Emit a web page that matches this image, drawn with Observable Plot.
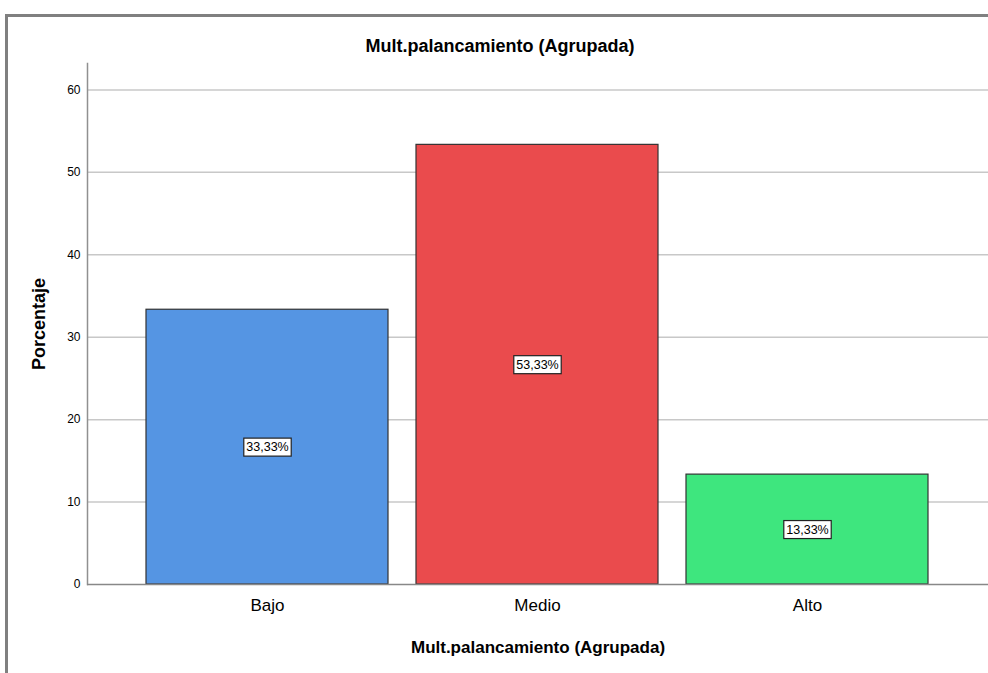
<!DOCTYPE html>
<html><head><meta charset="utf-8">
<script src="https://cdn.jsdelivr.net/npm/d3@7"></script>
<script src="https://cdn.jsdelivr.net/npm/@observablehq/plot@0.6"></script>
<style>
body{margin:0;background:#fff;}
#wrap{position:relative;width:988px;height:673px;overflow:hidden;font-family:"Liberation Sans",Arial,sans-serif;}
#frame{position:absolute;left:5px;top:14px;width:1000px;height:700px;border-left:3px solid #808080;border-top:3px solid #808080;}
#title{position:absolute;top:36px;left:0;width:1000px;text-align:center;font-weight:bold;font-size:18px;color:#000;}
#chart{position:absolute;left:0;top:0;}
</style></head>
<body>
<div id="wrap"><div id="frame"></div><div id="title">Mult.palancamiento (Agrupada)</div><div id="chart"></div></div>
<script>
const categories = ["Bajo", "Medio", "Alto"];
const values = [33.33, 53.33, 13.33];
const colors = ["#5595e3", "#ea4b4d", "#3ee67e"];
const yTicks = [0, 10, 20, 30, 40, 50, 60];
const title = "Mult.palancamiento (Agrupada)";
const yLabel = "Porcentaje";

const data = categories.map((c, i) => ({cat: c, v: values[i], color: colors[i]}));
const fmt = v => v.toFixed(2).replace(".", ",") + "%";
const font = '"Liberation Sans",Arial,sans-serif';

const chart = Plot.plot({
  width: 988, height: 673,
  marginLeft: 87, marginRight: 0, marginTop: 63, marginBottom: 89,
  style: {fontFamily: font, background: "transparent", overflow: "visible"},
  x: {domain: categories, paddingInner: 0.103, paddingOuter: 0.214},
  y: {domain: [0, 63.2]},
  marks: [
    Plot.gridY(yTicks.filter(t => t > 0), {stroke: "#c8c8c8", strokeOpacity: 1, strokeWidth: 1.5}),
    Plot.axisY(yTicks, {tickSize: 0, tickPadding: 7, fontSize: 12, label: yLabel, labelAnchor: "center", labelArrow: "none", labelOffset: 55}),
    Plot.axisX({tickSize: 0, tickPadding: 14, fontSize: 17, label: title, labelAnchor: "center", labelArrow: "none", labelOffset: 68}),
    Plot.frame({anchor: "left", stroke: "#909090", strokeWidth: 1.5}),
    Plot.barY(data, {x: "cat", y: "v", fill: "color", stroke: "#333", strokeWidth: 1.2}),
    Plot.ruleY([0], {stroke: "#888", strokeWidth: 1.5}),
    Plot.text(data, {x: "cat", y: d => d.v / 2, text: d => fmt(d.v), fontSize: 12.5, fill: "#000", className: "vlabel"})
  ]
});
document.getElementById("chart").appendChild(chart);
chart.querySelectorAll("[aria-label='y-axis label'] text").forEach(t => {
  t.setAttribute("font-weight", "bold"); t.setAttribute("font-size", "18"); t.setAttribute("fill", "#000");
});
chart.querySelectorAll("[aria-label='x-axis label'] text").forEach(t => {
  t.setAttribute("font-weight", "bold"); t.setAttribute("font-size", "17"); t.setAttribute("fill", "#000");
});
chart.querySelectorAll(".vlabel text").forEach(t => {
  const b = t.getBBox();
  const r = document.createElementNS("http://www.w3.org/2000/svg", "rect");
  r.setAttribute("x", b.x - 2.5); r.setAttribute("y", b.y - 2);
  r.setAttribute("width", b.width + 5); r.setAttribute("height", b.height + 4);
  r.setAttribute("fill", "#fff"); r.setAttribute("stroke", "#222"); r.setAttribute("stroke-width", "1.2");
  const tr = t.getAttribute("transform");
  if (tr) r.setAttribute("transform", tr);
  t.parentNode.insertBefore(r, t);
});
</script>
</body></html>
